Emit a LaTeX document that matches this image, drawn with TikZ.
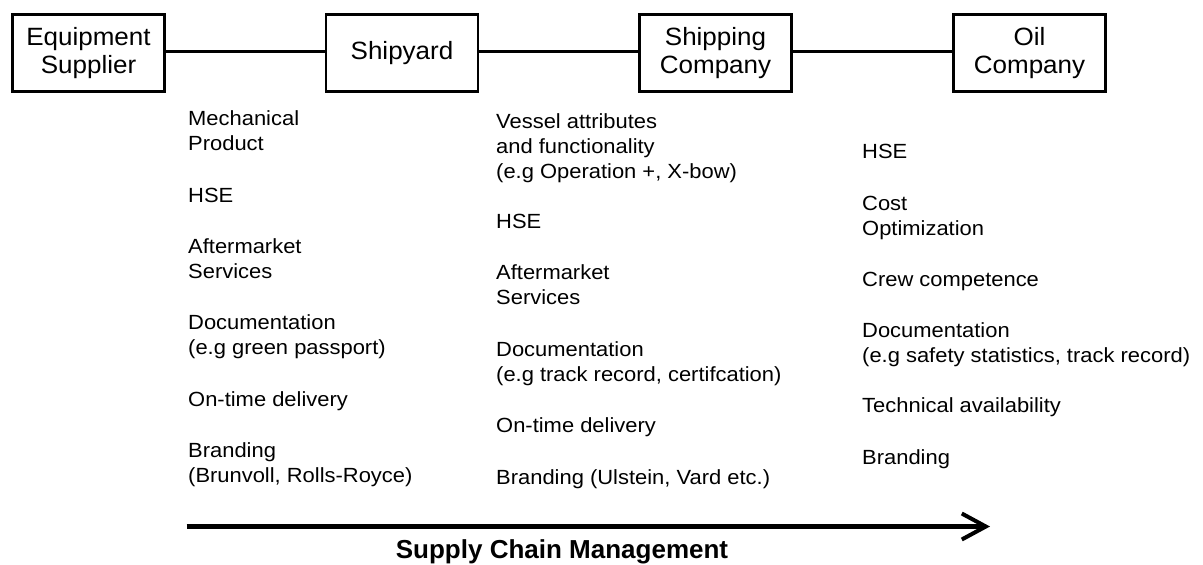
\documentclass[tikz,border=0pt]{standalone}
\usepackage{fontspec}
\setmainfont{Liberation Sans}
\newfontfamily\itemfont[FakeStretch=1.07]{Liberation Sans}
\newfontfamily\partyfont[FakeStretch=1.04]{Liberation Sans}
\usetikzlibrary{arrows.meta}
\begin{document}
\begin{tikzpicture}[x=1pt,y=-1pt,
  party/.style={draw, line width=2.6pt, minimum width=152pt, minimum height=77pt,
    inner sep=0pt, align=center, font=\partyfont\fontsize{25}{28}\selectfont},
  link/.style={line width=2.6pt},
  % items are placed by the baseline of their last line
  item/.style={anchor=base west, align=left, inner sep=0pt,
    font=\itemfont\fontsize{20.5}{25}\selectfont},
  flow/.style={line width=4.5pt, -{Straight Barb[length=24pt,width=26pt,line width=4pt]}},
]
\useasboundingbox (0,0) rectangle (1203,565);

% the four parties of the chain
\node[party] (eq)   at (88.5,53)  {Equipment\\Supplier};
\node[party] (yard) at (402,53)   {Shipyard};
\node[party] (ship) at (715.5,53) {Shipping\\Company};
\node[party] (oil)  at (1029.5,53){Oil\\Company};

\draw[link] ([yshift=1.5pt]eq.east)   -- ([yshift=1.5pt]yard.west);
\draw[link] ([yshift=1.5pt]yard.east) -- ([yshift=1.5pt]ship.west);
\draw[link] ([yshift=1.5pt]ship.east) -- ([yshift=1.5pt]oil.west);

% expectations towards the shipyard
\node[item] (y1) at (188,150) {Mechanical\\Product};
\node[item] (y2) at (188,202) {HSE};
\node[item] (y3) at (188,278) {Aftermarket\\Services};
\node[item] (y4) at (188,354) {Documentation\\(e.g green passport)};
\node[item] (y5) at (188,406) {On-time delivery};
\node[item] (y6) at (188,482) {Branding\\(Brunvoll, Rolls-Royce)};

% expectations towards the shipping company
\node[item] (s1) at (496,178) {Vessel attributes\\and functionality\\(e.g Operation +, X-bow)};
\node[item] (s2) at (496,228) {HSE};
\node[item] (s3) at (496,304) {Aftermarket\\Services};
\node[item] (s4) at (496,381) {Documentation\\(e.g track record, certifcation)};
\node[item] (s5) at (496,432) {On-time delivery};
\node[item] (s6) at (496,484) {Branding (Ulstein, Vard etc.)};

% expectations towards the oil company
\node[item] (o1) at (862,158) {HSE};
\node[item] (o2) at (862,235) {Cost\\Optimization};
\node[item] (o3) at (862,286) {Crew competence};
\node[item] (o4) at (862,362) {Documentation\\(e.g safety statistics, track record)};
\node[item] (o5) at (862,412) {Technical availability};
\node[item] (o6) at (862,464) {Branding};

% supply chain direction
\coordinate (scmStart) at (186.7,526.5);
\coordinate (scmEnd)   at (990,526.5);
\draw[flow] (scmStart) -- (scmEnd);
\node[anchor=base, inner sep=0pt, font=\bfseries\fontsize{26}{30}\selectfont] (scm)
  at (562,558) {Supply Chain Management};
\end{tikzpicture}
\end{document}
